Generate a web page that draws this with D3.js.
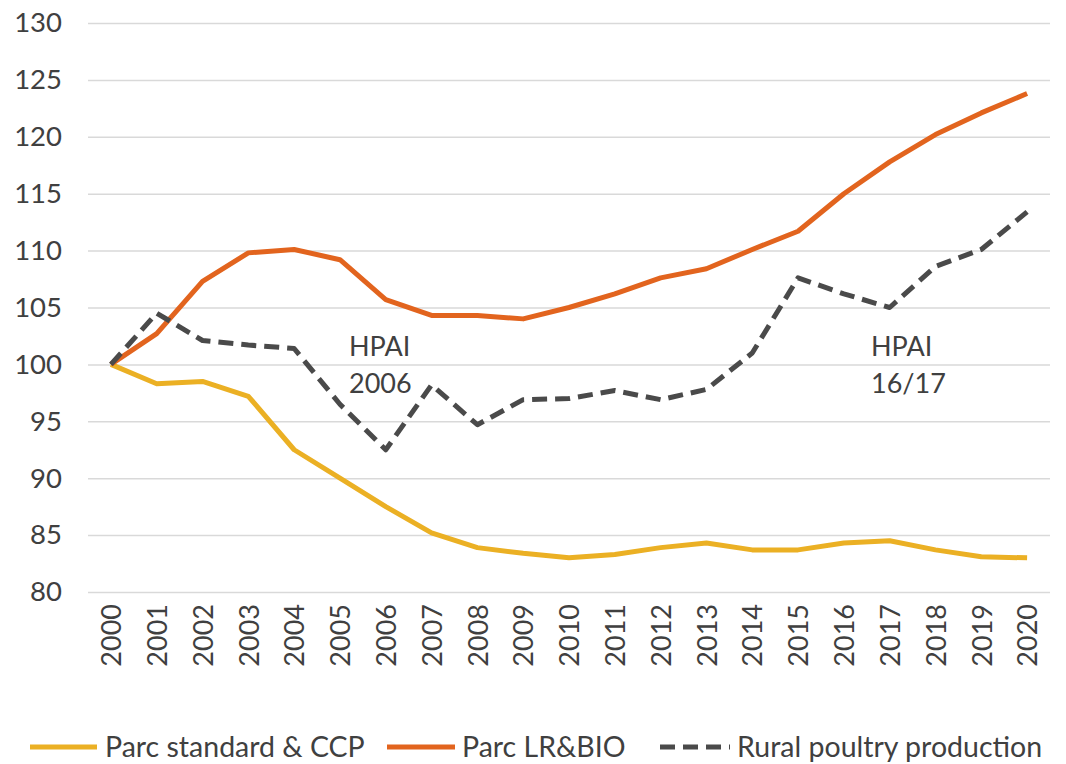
<!DOCTYPE html>
<html>
<head>
<meta charset="utf-8">
<script src="https://cdn.jsdelivr.net/npm/d3@7"></script>
<style>
  body { margin: 0; background: #fff; }
  text { font-family: Lato, "Open Sans", sans-serif; fill: #404040; }
</style>
</head>
<body>
<script>
// Data
const years = d3.range(2000, 2021).map(String);
const standard = [100, 98.3, 98.5, 97.2, 92.5, 90.0, 87.5, 85.2, 83.9, 83.4, 83.0,
                  83.3, 83.9, 84.3, 83.7, 83.7, 84.3, 84.5, 83.7, 83.1, 83.0];
const lrBio = [100, 102.7, 107.3, 109.8, 110.1, 109.2, 105.7, 104.3, 104.3, 104.0, 105.0,
               106.2, 107.6, 108.4, 110.1, 111.7, 115.0, 117.8, 120.2, 122.1, 123.8];
const rural = [100, 104.5, 102.1, 101.7, 101.4, 96.5, 92.5, 98.2, 94.7, 96.9, 97.0,
               97.7, 96.9, 97.8, 101.0, 107.6, 106.2, 105.0, 108.6, 110.1, 113.4];
const yTicks = [80, 85, 90, 95, 100, 105, 110, 115, 120, 125, 130];

const series = [
  { name: "Parc standard & CCP", values: standard, color: "#EBB024", dash: null },
  { name: "Parc LR&BIO", values: lrBio, color: "#E2641E", dash: null },
  { name: "Rural poultry production", values: rural, color: "#4A4A4A", dash: "15,8" }
];

const W = 1066, H = 764;
const plot = { left: 88, right: 1050, top: 23, bottom: 592 };

const svg = d3.select("body").append("svg")
  .attr("width", W)
  .attr("height", H);

// Scales
const x = d3.scalePoint().domain(years).range([plot.left, plot.right]).padding(0.5);
const y = d3.scaleLinear().domain([80, 130]).range([plot.bottom, plot.top]);

// Y axis with gridlines
const gy = svg.append("g")
  .attr("transform", `translate(${plot.left},0)`)
  .call(d3.axisLeft(y).tickValues(yTicks).tickSize(-(plot.right - plot.left)).tickPadding(26));
gy.select(".domain").remove();
gy.selectAll(".tick line").attr("stroke", "#D9D9D9").attr("stroke-width", 1.5);
gy.selectAll(".tick text").style("font-size", "27.5px").attr("fill", "#404040");

// X axis
const gx = svg.append("g")
  .attr("transform", `translate(0,${plot.bottom})`)
  .call(d3.axisBottom(x).tickSize(0));
gx.select(".domain").remove();
gx.selectAll(".tick text")
  .style("font-size", "27px")
  .attr("fill", "#404040")
  .attr("text-anchor", "end")
  .attr("transform", "rotate(-90)")
  .attr("x", -12)
  .attr("y", 0)
  .attr("dy", "0.36em");

// Lines
const line = d3.line()
  .x((d, i) => x(years[i]))
  .y(d => y(d));

series.forEach(s => {
  svg.append("path")
    .datum(s.values)
    .attr("fill", "none")
    .attr("stroke", s.color)
    .attr("stroke-width", 5)
    .attr("stroke-linejoin", "round")
    .attr("stroke-dasharray", s.dash)
    .attr("d", line);
});

// Annotations
const notes = [
  { lines: ["HPAI", "2006"], x: 349, y: 356 },
  { lines: ["HPAI", "16/17"], x: 871, y: 356 }
];
notes.forEach(n => {
  n.lines.forEach((t, i) => {
    svg.append("text")
      .attr("x", n.x)
      .attr("y", n.y + i * 37)
      .style("font-size", "27px")
      .text(t);
  });
});

// Legend
const legendPos = [
  { x0: 30, x1: 97, tx: 105 },
  { x0: 387, x1: 455, tx: 462 },
  { x0: 660, x1: 730, tx: 737 }
];
const ly = 747;
series.forEach((s, i) => {
  const p = legendPos[i];
  svg.append("line")
    .attr("x1", p.x0).attr("x2", p.x1)
    .attr("y1", ly).attr("y2", ly)
    .attr("stroke", s.color)
    .attr("stroke-width", 5)
    .attr("stroke-dasharray", s.dash ? "15,8" : null);
  svg.append("text")
    .attr("x", p.tx)
    .attr("y", ly + 10)
    .style("font-size", "28.5px")
    .text(s.name);
});
</script>
</body>
</html>
